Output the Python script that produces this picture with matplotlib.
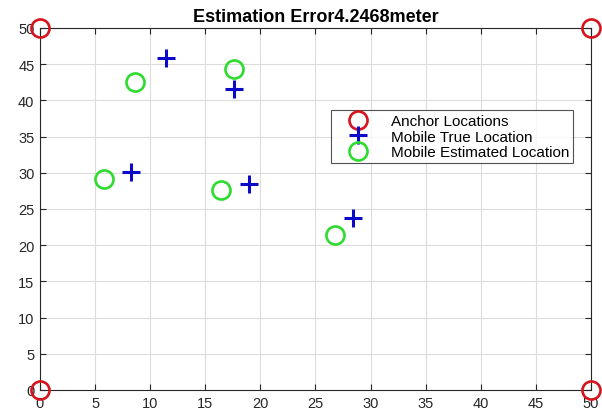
import matplotlib
matplotlib.use('Agg')
import matplotlib.pyplot as plt

# Anchor positions (corners of the area)
anchor_x = [0, 0, 50, 50]
anchor_y = [0, 50, 0, 50]

# Mobile true positions
true_x = [11.4, 17.6, 8.3, 19.0, 28.4]
true_y = [45.8, 41.6, 30.1, 28.4, 23.7]

# Mobile estimated positions
est_x = [8.6, 17.6, 5.8, 16.4, 26.8]
est_y = [42.5, 44.3, 29.1, 27.6, 21.4]

error = 4.2468

plt.rcParams['font.family'] = ['Liberation Sans', 'DejaVu Sans']

fig = plt.figure(figsize=(6.02, 4.14), dpi=100)
ax = fig.add_axes([0.0664, 0.0556, 0.9153, 0.8744])

# Plot anchors, true and estimated locations
ax.plot(anchor_x, anchor_y, 'o', color='#d7141e', markerfacecolor='none',
        markersize=13, markeredgewidth=1.9, clip_on=False, zorder=5,
        label='Anchor Locations')
ax.plot(true_x, true_y, '+', color='#0a0ac8', markersize=13,
        markeredgewidth=2.2, label='Mobile True Location')
ax.plot(est_x, est_y, 'o', color='#2ddc2d', markerfacecolor='none',
        markersize=13, markeredgewidth=1.9, label='Mobile Estimated Location')

ax.set_xlim(0, 50)
ax.set_ylim(0, 50)
ax.set_xticks(range(0, 51, 5))
ax.set_yticks(range(0, 51, 5))
ax.tick_params(direction='in', top=True, right=True, labelsize=10.5,
               colors='#262626', length=4, pad=4)
ax.grid(True, color='#dcdcdc', linewidth=0.8)
ax.set_axisbelow(True)
for s in ax.spines.values():
    s.set_color('#262626')
    s.set_linewidth(0.8)

ax.set_title('Estimation Error' + str(error) + 'meter', fontsize=13,
             fontweight='bold', pad=5)

leg = ax.legend(loc='upper left', bbox_to_anchor=(0.529, 0.773), fontsize=11,
                frameon=True, fancybox=False, edgecolor='#262626',
                borderpad=0.25, labelspacing=0.1, handletextpad=0.65,
                handlelength=3.0, borderaxespad=0)
leg.get_frame().set_linewidth(0.8)

fig.savefig('out.png', dpi=100)
